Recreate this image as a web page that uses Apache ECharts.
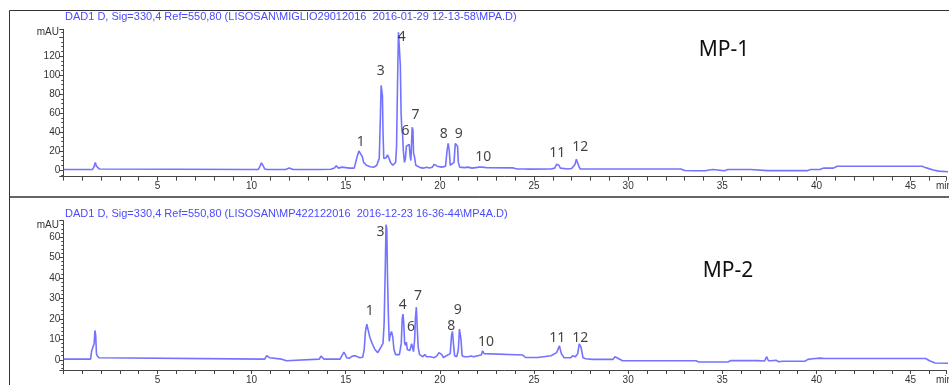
<!DOCTYPE html>
<html>
<head>
<meta charset="utf-8">
<script src="https://cdn.jsdelivr.net/npm/echarts@6/dist/echarts.min.js"></script>
<style>
  html, body { margin: 0; padding: 0; background: #fff; }
  #chart { width: 949px; height: 385px; }
</style>
</head>
<body>
<div id="chart"></div>
<script>
// retention time (min), absorbance (mAU)
const traceMP1 = [
  [0, 0.5], [1.55, 0.5], [1.62, 3], [1.7, 8], [1.76, 4], [1.8, 2], [1.86, 5], [1.92, 1], [2.0, 0.5],
  [10.35, 0.5], [10.45, 4], [10.52, 7.5], [10.6, 5], [10.7, 1], [10.85, 0.5],
  [11.6, 0.5], [11.7, -0.5], [11.8, 0.5], [11.9, 1.5], [12.0, 2], [12.1, 1], [12.2, 0.5],
  [13.4, 0.5], [13.5, 1.8], [13.6, 0.5],
  [14.2, 0.8], [14.3, 1.5], [14.4, 2], [14.5, 4.5], [14.6, 2], [14.7, 1.5], [14.8, 3], [14.9, 3],
  [15.0, 2.5], [15.1, 3], [15.2, 2], [15.3, 1.5], [15.45, 2], [15.55, 4], [15.62, 15], [15.7, 20],
  [15.8, 19], [15.88, 14], [15.95, 8], [16.1, 5], [16.3, 3.5], [16.5, 3], [16.6, 3], [16.65, 5],
  [16.7, 8], [16.78, 12], [16.84, 55], [16.88, 89], [16.92, 88], [16.95, 78], [16.98, 40],
  [17.02, 12], [17.08, 10], [17.15, 13], [17.22, 16], [17.3, 14], [17.38, 8], [17.5, 5], [17.6, 5],
  [17.65, 8], [17.7, 25], [17.75, 90], [17.8, 145], [17.85, 145], [17.9, 110], [17.94, 60],
  [17.98, 42], [18.02, 38], [18.06, 20], [18.12, 8], [18.17, 12], [18.22, 25], [18.27, 27],
  [18.32, 24], [18.37, 27], [18.42, 15], [18.46, 10], [18.5, 30], [18.53, 45], [18.57, 42],
  [18.6, 18], [18.65, 14], [18.72, 5], [18.8, 3], [18.95, 2.5], [19.05, 4], [19.15, 2], [19.3, 3],
  [19.45, 2], [19.6, 3], [19.7, 6], [19.78, 8], [19.85, 4], [19.95, 3], [20.1, 3], [20.2, 2],
  [20.3, 4], [20.38, 20], [20.44, 28], [20.5, 20], [20.55, 5], [20.65, 3], [20.75, 8], [20.82, 28],
  [20.88, 30], [20.94, 25], [20.98, 8], [21.05, 3], [21.3, 2.5], [21.5, 3], [21.7, 2], [21.9, 2.5],
  [22.1, 3], [22.17, 5], [22.25, 3], [22.5, 2.4], [23.9, 2.2], [24.1, 1], [24.2, 1.6], [24.35, 1],
  [24.5, 1], [24.6, 1.6], [24.7, 0.9], [25.9, 1], [26.1, 2], [26.2, 6], [26.25, 7.7], [26.32, 5],
  [26.4, 2], [26.5, 1], [26.8, 1], [26.9, 3], [27.0, 1.5], [27.1, 2], [27.18, 6], [27.25, 11.3],
  [27.3, 10], [27.38, 4], [27.45, 1], [32.8, 1], [33.0, -0.5], [33.5, -0.8], [33.9, -0.8],
  [34.0, 0.5], [34.1, -0.8], [34.3, 0], [34.35, -0.8], [34.5, 0.5], [34.6, -0.8], [35.1, -0.8],
  [35.3, 0.5], [36.5, 0.5], [36.6, -0.7], [37.4, -0.7], [37.5, 0.3], [37.6, -0.7], [38.8, -0.7],
  [38.9, 0.3], [39.0, -0.7], [39.5, -0.7], [39.7, 0.5], [40.2, 0.7], [40.4, 2], [40.9, 2],
  [41.1, 4], [43.3, 4], [43.4, 3], [43.5, 4], [45.6, 4], [45.8, 2.5], [46.2, 0], [46.5, -1.2],
  [47, -1.8]
];

const traceMP2 = [
  [0, 0.3], [1.45, 0.3], [1.5, 4], [1.55, 5.5], [1.6, 5], [1.64, 8], [1.68, 14.3], [1.72, 12],
  [1.76, 3], [1.8, 2], [1.85, 2.5], [1.9, 1], [2.0, 0.3],
  [10.7, 0.3], [10.8, 2], [10.87, 2.8], [10.95, 1], [11.05, 0.3], [11.6, 0.3], [11.7, -0.6],
  [11.85, -0.5], [11.95, 0.3], [13.6, 0.3], [13.68, 1.8], [13.78, 1.8], [13.85, 0.3],
  [14.7, 0.3], [14.8, 2], [14.9, 3.7], [14.98, 2.5], [15.05, 1], [15.2, 0.8], [15.35, 1.8],
  [15.5, 2], [15.6, 1.8], [15.75, 1], [15.9, 1.2], [15.98, 5], [16.05, 14], [16.12, 17.4],
  [16.2, 16.5], [16.28, 11], [16.4, 8], [16.55, 5], [16.7, 3.5], [16.8, 4], [16.86, 6],
  [16.92, 5.5], [16.98, 8], [17.04, 18], [17.1, 45], [17.14, 66], [17.18, 64], [17.22, 40],
  [17.27, 20], [17.31, 9], [17.36, 12], [17.43, 13.8], [17.5, 11], [17.56, 5], [17.65, 2.5],
  [17.75, 2], [17.85, 2.5], [17.95, 8], [18.0, 20], [18.04, 22.3], [18.08, 18], [18.13, 8],
  [18.18, 7], [18.22, 8.6], [18.27, 5], [18.33, 5], [18.4, 4.5], [18.45, 6], [18.5, 7.8],
  [18.55, 6], [18.6, 4], [18.66, 10], [18.7, 20], [18.75, 25.7], [18.8, 15], [18.85, 6],
  [18.92, 2.5], [19.0, 2], [19.1, 1.5], [19.2, 2.5], [19.3, 1.5], [19.5, 1.5], [19.7, 1],
  [19.85, 2], [19.95, 3.5], [20.02, 4.4], [20.1, 2.5], [20.2, 1], [20.35, 2], [20.45, 1.5],
  [20.55, 3], [20.62, 12], [20.67, 13.8], [20.72, 8], [20.78, 2], [20.9, 1.5], [20.98, 5],
  [21.04, 15], [21.08, 15.9], [21.12, 10], [21.18, 2], [21.3, 1.5], [21.5, 1.5], [21.65, 1.8],
  [21.8, 1.5], [22.0, 2], [22.2, 2.3], [22.27, 4.4], [22.35, 3], [22.45, 2.3], [24.4, 2.3],
  [24.55, 1.1], [24.9, 1.1], [24.95, 1.6], [25.0, 1.1], [25.2, 1.1], [25.25, 1.6], [25.3, 1.1],
  [25.9, 2], [26.2, 3.5], [26.35, 6.8], [26.45, 3], [26.6, 1], [26.95, 1], [27.05, 2],
  [27.2, 1.5], [27.32, 3], [27.4, 7.8], [27.5, 6], [27.6, 1], [27.75, 0.5], [28.1, 0.2],
  [28.3, 0.2], [28.35, 0.8], [28.45, 0.2], [29.0, 0.2], [29.1, 1], [29.2, 0.2], [29.3, 1.5],
  [29.38, 2], [29.5, 0.5], [29.6, 1], [29.7, -0.5], [33.6, -0.5], [33.75, -1.1], [34.0, -1.1],
  [34.05, -0.3], [34.1, -1.1], [34.4, -1.1], [34.45, -0.2], [34.55, -1.1], [35.3, -1.1],
  [35.45, -0.4], [36.85, -0.4], [36.95, -0.9], [37.25, -0.6], [37.35, 1.5], [37.45, -0.5],
  [37.6, -0.5], [37.7, -1], [37.85, -0.2], [38.0, -1], [38.2, -0.7], [39.4, -0.7], [39.55, 0.2],
  [39.65, 0], [39.8, 0.5], [40.2, 0.8], [40.3, 1.2], [40.4, 0.6], [41.5, 0.6], [41.55, 1.1],
  [41.6, 0.6], [42.0, 0.6], [42.05, 1.2], [42.1, 0.6], [45.8, 0.6], [46.0, -0.5], [46.3, -1.6],
  [47, -1.7]
];

const peakNames = ['1', '3', '4', '6', '7', '8', '9', '10', '11', '12'];
// where each peak number sits, in data units
const labelPosMP1 = [[15.8, 29.5], [16.86, 104], [17.97, 140], [18.18, 41], [18.71, 58],
  [20.2, 38], [21.0, 38], [22.31, 13.7], [26.23, 17.9], [27.45, 24.2]];
const labelPosMP2 = [[16.27, 23.6], [16.85, 62.6], [18.03, 26.8], [18.47, 15.8], [18.84, 31.2],
  [20.6, 16.3], [20.95, 24.4], [22.45, 8.5], [26.23, 10.6], [27.46, 10.6]];

const titleMP1 = 'DAD1 D, Sig=330,4 Ref=550,80 (LISOSAN\\MIGLIO29012016  2016-01-29 12-13-58\\MPA.D)';
const titleMP2 = 'DAD1 D, Sig=330,4 Ref=550,80 (LISOSAN\\MP422122016  2016-12-23 16-36-44\\MP4A.D)';

const xMax = 46.88;
const yRangeMP1 = [-7, 148];
const yRangeMP2 = [-5, 68];
const yLabelTopMP1 = 120;
const yLabelTopMP2 = 60;

const lineColor = 'rgba(80, 80, 255, 0.8)';
const axisColor = '#444';
const textFont = 'Liberation Sans, Arial, sans-serif';

const chart = echarts.init(document.getElementById('chart'), null, { renderer: 'canvas' });

function xAxisCfg(gridIndex) {
  return {
    type: 'value', gridIndex: gridIndex, min: 0, max: xMax, interval: 5,
    axisLine: { show: true, onZero: false, lineStyle: { color: axisColor, width: 1 } },
    axisTick: { show: true, length: 4, lineStyle: { color: axisColor } },
    minorTick: { show: true, splitNumber: 5, length: 4, lineStyle: { color: axisColor } },
    axisLabel: {
      color: '#333', fontSize: 10, fontFamily: textFont, margin: 5,
      formatter: v => (v > 0 && v % 5 === 0) ? String(v) : ''
    },
    splitLine: { show: false }
  };
}

function yAxisCfg(gridIndex, range, split, step, minorSplit, topLabel) {
  return {
    type: 'value', gridIndex: gridIndex, min: range[0], max: range[1], splitNumber: split,
    axisLine: { show: true, lineStyle: { color: axisColor, width: 1 } },
    axisTick: { show: true, length: 4, lineStyle: { color: axisColor } },
    minorTick: { show: true, splitNumber: minorSplit, length: 2, lineStyle: { color: axisColor } },
    axisLabel: {
      color: '#333', fontSize: 10, fontFamily: textFont, margin: 3,
      formatter: v => (v % step === 0 && v <= topLabel) ? String(v) : ''
    },
    splitLine: { show: false }
  };
}

function peakLabels(idx, pos) {
  return {
    type: 'scatter', xAxisIndex: idx, yAxisIndex: idx, symbolSize: 0, silent: true,
    data: pos.map((p, i) => ({ value: p, name: peakNames[i] })),
    label: {
      show: true, position: 'inside', formatter: p => p.name,
      color: '#111', fontSize: 14, fontFamily: 'Noto Sans, sans-serif'
    },
    z: 5
  };
}

const option = {
  animation: false,
  backgroundColor: '#fff',
  grid: [
    { left: 63.3, width: 885.7, top: 29.4, height: 147.25 },
    { left: 63.3, width: 885.7, top: 220.6, height: 149.65 }
  ],
  xAxis: [xAxisCfg(0), xAxisCfg(1)],
  yAxis: [
    yAxisCfg(0, yRangeMP1, 8, 20, 4, yLabelTopMP1),
    yAxisCfg(1, yRangeMP2, 7, 10, 5, yLabelTopMP2)
  ],
  series: [
    {
      type: 'line', xAxisIndex: 0, yAxisIndex: 0, data: traceMP1, showSymbol: false,
      lineStyle: { color: lineColor, width: 1.6 }
    },
    {
      type: 'line', xAxisIndex: 1, yAxisIndex: 1, data: traceMP2, showSymbol: false,
      lineStyle: { color: lineColor, width: 1.6 }
    },
    peakLabels(0, labelPosMP1),
    peakLabels(1, labelPosMP2)
  ],
  graphic: [
    { type: 'rect', shape: { x: 9.5, y: 10.5, width: 945, height: 186.5 },
      style: { fill: 'none', stroke: '#333', lineWidth: 1 }, silent: true },
    { type: 'rect', shape: { x: 9.5, y: 197, width: 945, height: 200 },
      style: { fill: 'none', stroke: '#333', lineWidth: 1 }, silent: true },
    { type: 'text', x: 65, y: 17, style: { text: titleMP1, fill: '#4a4aff', font: '11px ' + textFont, textVerticalAlign: 'middle' } },
    { type: 'text', x: 65, y: 214, style: { text: titleMP2, fill: '#4a4aff', font: '11px ' + textFont, textVerticalAlign: 'middle' } },
    { type: 'text', x: 59, y: 32, style: { text: 'mAU', fill: '#333', font: '10px ' + textFont, textAlign: 'right', textVerticalAlign: 'middle' } },
    { type: 'text', x: 59, y: 225, style: { text: 'mAU', fill: '#333', font: '10px ' + textFont, textAlign: 'right', textVerticalAlign: 'middle' } },
    { type: 'text', x: 936, y: 186, style: { text: 'min', fill: '#333', font: '10px ' + textFont, textVerticalAlign: 'middle' } },
    { type: 'text', x: 936, y: 380, style: { text: 'min', fill: '#333', font: '10px ' + textFont, textVerticalAlign: 'middle' } },
    { type: 'text', x: 724, y: 50, style: { text: 'MP-1', fill: '#111', font: '21px Noto Sans, sans-serif', textAlign: 'center', textVerticalAlign: 'middle' } },
    { type: 'text', x: 728, y: 271, style: { text: 'MP-2', fill: '#111', font: '21px Noto Sans, sans-serif', textAlign: 'center', textVerticalAlign: 'middle' } }
  ]
};

chart.setOption(option);
</script>
</body>
</html>
